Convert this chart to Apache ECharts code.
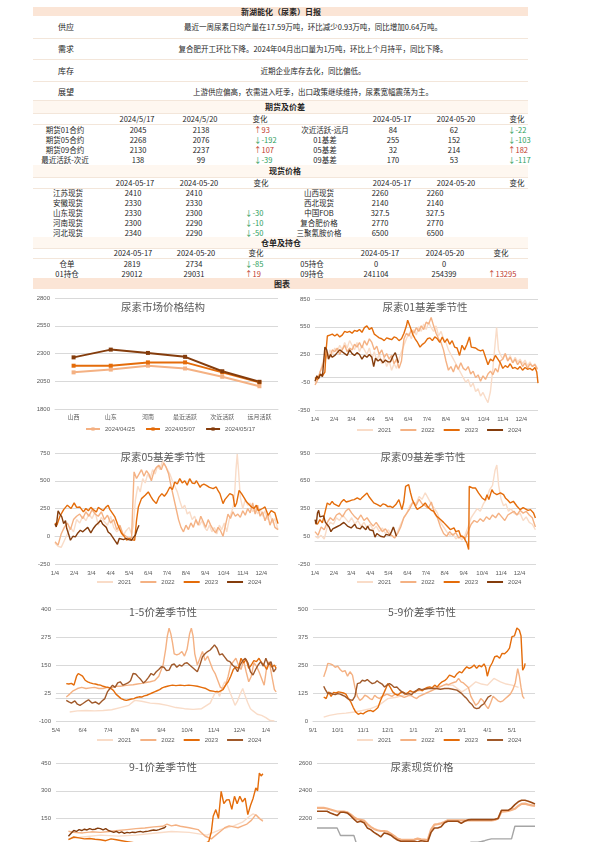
<!DOCTYPE html>
<html>
<head>
<meta charset="utf-8">
<script src="https://cdn.jsdelivr.net/npm/echarts@6.0.0/dist/echarts.min.js"></script>
<style>
  html, body { margin: 0; padding: 0; background: #fff; }
  body { width: 595px; height: 842px; overflow: hidden; position: relative;
         font-family: "Noto Sans CJK SC", "Liberation Sans", sans-serif; color: #262626; }
  .t { position: absolute; white-space: nowrap; font-size: 7.5px; line-height: 1; }
  .band { position: absolute; left: 33px; width: 495px; }
  .rule { position: absolute; left: 33px; width: 495px; height: 1px; background: #f3e6da; }
  .chart { position: absolute; }
</style>
</head>
<body>
<div id="c1" class="chart" style="left:30px;top:290px;width:265px;height:150px"></div>
<div id="c2" class="chart" style="left:295px;top:290px;width:270px;height:150px"></div>
<div id="c3" class="chart" style="left:30px;top:440px;width:265px;height:152px"></div>
<div id="c4" class="chart" style="left:295px;top:440px;width:270px;height:152px"></div>
<div id="c5" class="chart" style="left:30px;top:595px;width:265px;height:155px"></div>
<div id="c6" class="chart" style="left:295px;top:595px;width:270px;height:155px"></div>
<div id="c7" class="chart" style="left:30px;top:750px;width:265px;height:152px"></div>
<div id="c8" class="chart" style="left:295px;top:750px;width:270px;height:152px"></div>
<script>
// ---- 文字表格数据 ----
const reportTitle = '新湖能化（尿素）日报';
const summaryLabels = ['供应', '需求', '库存', '展望'];
const summaryTexts = [
  '最近一周尿素日均产量在17.59万吨，环比减少0.93万吨，同比增加0.64万吨。',
  '复合肥开工环比下降。2024年04月出口量为1万吨，环比上个月持平，同比下降。',
  '近期企业库存去化，同比偏低。',
  '上游供应偏高，农需进入旺季，出口政策继续维持，尿素宽幅震荡为主。'
];

const futNames = ['期货01合约', '期货05合约', '期货09合约', '最近活跃-次近'];
const fut0517 = [2045, 2268, 2130, 138];
const fut0520 = [2138, 2076, 2237, 99];
const sprNames = ['次近活跃-远月', '01基差', '05基差', '09基差'];
const spr0517 = [84, 255, 32, 170];
const spr0520 = [62, 152, 214, 53];

const spotNamesL = ['江苏现货', '安徽现货', '山东现货', '河南现货', '河北现货'];
const spotL0517 = [2410, 2330, 2330, 2300, 2340];
const spotL0520 = [2410, 2330, 2300, 2290, 2290];
const spotNamesR = ['山西现货', '西北现货', '中国FOB', '复合肥价格', '三聚氰胺价格'];
const spotR0517 = [2260, 2140, 327.5, 2770, 6500];
const spotR0520 = [2260, 2140, 327.5, 2770, 6500];

const whNamesL = ['仓单', '01持仓'];
const whL0517 = [2819, 29012];
const whL0520 = [2734, 29031];
const whNamesR = ['05持仓', '09持仓'];
const whR0517 = [0, 241104];
const whR0520 = [0, 254399];

// ---- 图表数据 ----
const structCats = ['山西', '山东', '河南', '最近活跃', '次近活跃', '远月活跃'];
const structNames = ['2024/04/25', '2024/05/07', '2024/05/17'];
const price0425 = [2130, 2155, 2190, 2165, 2090, 2005];
const price0507 = [2190, 2190, 2220, 2220, 2130, 2040];
const price0517 = [2265, 2335, 2305, 2270, 2140, 2045];

const YEARS = ['2021', '2022', '2023', '2024'];
const monthTicks = [0, 31, 59, 90, 120, 151, 181, 212, 243, 273, 304, 334];
const monthLabels = ['1/4', '2/4', '3/4', '4/4', '5/4', '6/4', '7/4', '8/4', '9/4', '10/4', '11/4', '12/4'];
const ticks15 = [0, 31, 61, 92, 123, 153, 184, 214, 245];
const labels15 = ['5/4', '6/4', '7/4', '8/4', '9/4', '10/4', '11/4', '12/4', '1/4'];
const ticks59 = [0, 30, 61, 91, 122, 153, 181, 212, 242];
const labels59 = ['9/1', '10/1', '11/1', '12/1', '1/1', '2/1', '3/1', '4/1', '5/1'];

// 01基差 [天, 值]
const b01_2021 = [[0,-60],[4,-20],[8,50],[12,150],[16,250],[20,200],[24,300],[28,250],[32,320],[36,280],[40,350],[44,300],[48,380],[52,320],[56,400],[60,350],[64,300],[68,380],[72,280],[76,350],[80,300],[84,250],[88,320],[92,200],[96,280],[100,180],[104,260],[108,150],[112,220],[116,120],[120,180],[124,80],[128,150],[132,100],[136,200],[140,280],[144,350],[148,420],[152,480],[156,420],[160,520],[164,460],[168,550],[172,500],[176,580],[180,520],[184,600],[188,540],[192,500],[196,560],[200,450],[204,500],[208,420],[212,380],[216,300],[220,250],[224,200],[228,150],[232,100],[236,50],[240,0],[244,-50],[248,-20],[252,-100],[256,-60],[260,-150],[264,-120],[268,-200],[272,-160],[276,-220],[280,-270],[284,-150],[288,100],[292,400],[294,540],[297,300],[300,250],[304,200],[308,260],[312,180],[316,240],[320,160],[324,220],[328,170],[332,200],[336,150],[340,190],[344,130],[348,170],[352,120],[356,150],[360,100]];
const b01_2022 = [[0,-80],[4,-30],[8,60],[12,120],[16,200],[20,250],[24,220],[28,300],[32,280],[36,320],[40,250],[44,300],[48,350],[52,280],[56,320],[60,300],[64,360],[68,330],[72,380],[76,320],[80,400],[84,350],[88,420],[92,380],[96,300],[100,340],[104,250],[108,300],[112,220],[116,260],[120,200],[124,240],[128,150],[132,200],[136,100],[140,180],[144,420],[148,480],[152,450],[156,520],[160,480],[164,540],[168,500],[172,560],[176,520],[180,600],[184,580],[188,650],[192,560],[196,480],[200,420],[204,380],[208,300],[212,180],[216,80],[220,120],[224,60],[228,140],[232,90],[236,160],[240,100],[244,80],[248,120],[252,40],[256,70],[260,0],[264,30],[268,-40],[272,20],[276,-20],[280,40],[284,70],[288,30],[292,100],[296,60],[300,180],[304,200],[308,260],[312,180],[316,220],[320,160],[324,200],[328,140],[332,180],[336,120],[340,160],[344,100],[348,150],[352,120],[356,140],[360,90]];
const b01_2023 = [[0,0],[4,-20],[8,30],[12,20],[16,60],[18,300],[20,450],[24,460],[28,470],[32,450],[36,470],[40,440],[44,460],[48,500],[52,490],[56,500],[60,480],[64,510],[68,500],[72,520],[76,490],[80,540],[84,560],[88,520],[92,540],[96,470],[100,450],[104,430],[108,420],[112,400],[116,430],[120,420],[124,410],[128,440],[132,430],[136,400],[140,420],[144,480],[148,560],[150,620],[152,600],[155,530],[158,470],[162,420],[166,380],[170,330],[174,360],[178,380],[182,420],[186,430],[190,400],[194,440],[198,420],[202,380],[206,440],[210,380],[214,420],[218,360],[222,400],[226,330],[230,320],[234,240],[238,350],[242,300],[246,360],[250,440],[253,330],[256,310],[260,320],[264,300],[268,290],[272,300],[276,220],[280,140],[284,200],[288,180],[292,240],[296,200],[300,160],[304,100],[308,130],[312,110],[316,150],[320,100],[324,110],[328,90],[332,120],[336,80],[340,110],[344,90],[348,100],[352,80],[356,110],[359,60],[361,-60]];
const b01_2024 = [[0,-40],[3,20],[6,-10],[9,40],[12,10],[14,30],[16,330],[19,300],[22,200],[25,250],[28,220],[32,240],[36,270],[40,300],[44,280],[48,260],[52,240],[56,300],[60,260],[64,240],[68,270],[72,250],[76,200],[80,240],[84,220],[88,250],[92,220],[95,120],[98,210],[102,180],[106,200],[110,160],[114,190],[118,170],[122,170],[126,230],[130,270],[133,250],[135,160]];

// 05基差
const b05_2021 = [[0,-60],[5,-90],[10,-100],[15,-40],[20,20],[25,80],[30,40],[35,150],[40,120],[45,180],[50,140],[55,200],[60,160],[65,220],[70,100],[75,170],[80,130],[85,100],[90,180],[95,80],[100,40],[105,70],[110,0],[115,50],[120,80],[124,20],[127,100],[130,320],[134,450],[138,400],[142,520],[146,480],[150,560],[154,520],[158,600],[162,560],[166,630],[170,600],[174,680],[178,640],[182,600],[186,560],[190,500],[194,450],[198,400],[202,320],[206,250],[210,280],[214,200],[218,220],[222,150],[226,180],[230,120],[234,100],[238,140],[242,80],[246,50],[250,100],[254,40],[258,80],[262,20],[266,100],[270,60],[274,120],[278,40],[282,150],[286,220],[290,300],[293,600],[295,740],[297,600],[300,350],[304,250],[308,330],[312,280],[316,300],[320,220],[324,260],[328,200],[332,250],[336,180],[340,230],[344,150],[348,200],[352,120],[356,160],[361,60]];
const b05_2022 = [[0,-50],[5,-80],[10,20],[15,80],[20,120],[25,60],[30,150],[35,180],[40,200],[45,160],[50,220],[55,180],[60,240],[65,200],[70,180],[75,220],[80,150],[85,190],[90,120],[95,150],[100,60],[105,100],[110,20],[115,0],[120,-20],[124,-10],[126,300],[128,580],[132,520],[136,560],[140,600],[144,540],[148,590],[152,560],[156,500],[160,580],[164,620],[168,640],[172,600],[176,660],[180,620],[184,560],[188,450],[192,350],[196,250],[200,150],[204,80],[208,40],[212,100],[216,60],[220,120],[224,80],[228,150],[232,100],[236,180],[240,130],[244,80],[248,150],[252,100],[256,60],[260,30],[264,80],[268,50],[272,0],[276,100],[280,200],[284,160],[288,220],[292,180],[296,200],[300,170],[304,230],[308,190],[312,250],[316,210],[320,300],[324,200],[328,280],[332,180],[336,220],[340,140],[344,200],[348,100],[352,160],[356,80],[361,60]];
const b05_2023 = [[0,120],[3,100],[8,180],[14,240],[20,280],[26,250],[31,300],[35,260],[40,264],[46,219],[50,250],[54,230],[58,260],[62,240],[67,219],[70,260],[73,264],[78,230],[82,260],[86,279],[89,240],[92,230],[97,174],[102,99],[105,60],[108,24],[112,0],[116,-36],[120,-20],[124,-30],[129,-36],[132,144],[135,264],[140,339],[146,369],[151,399],[155,360],[159,324],[164,294],[168,350],[173,384],[177,360],[181,390],[186,444],[190,420],[194,489],[198,470],[202,519],[206,480],[210,500],[214,460],[218,519],[222,480],[226,474],[229,500],[232,500],[235,440],[237,459],[241,470],[245,459],[250,440],[256,429],[261,444],[264,410],[267,384],[272,294],[275,330],[278,320],[283,384],[288,370],[291,264],[294,300],[298,414],[302,384],[307,339],[310,310],[313,300],[318,264],[322,250],[326,279],[329,230],[332,219],[336,250],[340,264],[345,189],[350,230],[356,210],[361,114]];
const b05_2024 = [[0,110],[2,84],[5,228],[8,200],[11,174],[14,114],[17,140],[19,69],[22,20],[25,-36],[29,0],[33,-6],[37,30],[41,54],[45,40],[49,60],[53,80],[58,30],[62,70],[66,99],[70,120],[74,144],[77,110],[80,100],[83,80],[86,39],[90,20],[93,-6],[97,-40],[101,-72],[104,-20],[107,-10],[111,-30],[115,-20],[119,-30],[124,-36],[127,-10],[130,9],[133,60],[136,99]];

// 09基差
const b09_2021 = [[0,50],[5,30],[10,60],[15,20],[20,150],[25,200],[30,180],[35,250],[40,220],[45,280],[50,240],[55,200],[60,250],[65,180],[70,220],[75,160],[80,200],[85,140],[90,180],[95,120],[100,160],[105,100],[110,140],[115,80],[120,120],[125,60],[130,40],[135,100],[140,180],[145,250],[150,300],[155,380],[160,420],[165,400],[170,480],[175,450],[180,520],[185,460],[190,400],[195,350],[200,300],[205,200],[210,150],[215,100],[220,60],[225,80],[230,20],[235,50],[240,10],[245,60],[250,150],[255,250],[260,300],[265,350],[270,320],[275,400],[280,450],[285,550],[290,600],[294,760],[297,820],[300,600],[304,450],[308,380],[312,400],[316,320],[320,350],[325,300],[330,280],[335,300],[340,220],[345,260],[350,200],[355,180],[360,120]];
const b09_2022 = [[0,100],[5,60],[10,150],[15,120],[20,200],[25,250],[30,220],[35,280],[40,300],[45,260],[50,320],[55,350],[60,300],[65,260],[70,230],[75,280],[80,220],[85,250],[90,200],[95,160],[100,200],[105,150],[110,100],[115,130],[120,80],[125,60],[130,30],[135,80],[140,150],[145,250],[150,300],[155,350],[160,420],[165,380],[170,450],[175,400],[180,380],[185,350],[190,420],[195,300],[200,250],[205,150],[210,80],[215,50],[220,100],[225,60],[230,90],[235,30],[240,60],[245,20],[250,100],[255,180],[260,220],[265,200],[270,240],[275,210],[280,260],[285,230],[290,280],[295,250],[300,300],[305,260],[310,220],[315,280],[320,300],[325,320],[330,280],[335,330],[340,300],[345,320],[350,280],[355,250],[360,150]];
const b09_2023 = [[0,200],[4,180],[8,230],[12,194],[16,300],[20,410],[24,390],[28,428],[31,400],[34,410],[39,374],[43,420],[47,446],[51,420],[55,428],[60,440],[64,446],[69,464],[74,446],[77,470],[80,482],[85,518],[88,480],[91,464],[96,410],[99,420],[102,392],[107,374],[111,400],[115,392],[119,370],[123,374],[127,360],[132,392],[137,446],[142,338],[145,420],[148,590],[153,608],[156,520],[159,446],[164,374],[167,340],[170,338],[175,374],[180,410],[183,380],[186,356],[190,330],[194,320],[199,266],[205,230],[210,200],[216,158],[221,122],[227,140],[230,100],[232,86],[235,110],[238,50],[243,40],[246,0],[248,-22],[251,-94],[252,590],[257,572],[262,572],[267,518],[273,464],[278,440],[281,500],[284,446],[289,554],[292,520],[295,518],[297,500],[303,518],[308,500],[311,464],[315,440],[319,410],[324,428],[330,374],[335,338],[340,360],[343,356],[348,330],[352,338],[357,302],[360,248]];
const b09_2024 = [[0,230],[2,180],[4,300],[6,330],[8,260],[11,250],[14,270],[17,200],[20,220],[23,150],[26,100],[29,130],[32,120],[35,150],[38,130],[41,170],[44,160],[47,200],[50,190],[53,160],[56,170],[59,140],[62,160],[65,180],[68,140],[71,150],[74,130],[77,160],[80,140],[83,120],[86,160],[89,120],[92,130],[95,110],[98,40],[101,80],[104,70],[107,50],[110,60],[113,40],[116,70],[119,50],[122,60],[125,100],[128,150],[131,170],[133,50]];

// 1-5价差
const s15_2021 = [[16,-60],[25,-55],[35,-53],[45,-55],[55,-53],[65,-50],[75,-40],[85,-30],[92,-8],[100,-12],[110,-20],[120,-23],[130,-30],[140,-40],[150,-45],[160,-48],[170,-45],[180,-20],[185,20],[188,37],[191,10],[194,50],[197,75],[200,60],[203,30],[206,0],[209,-30],[212,-10],[215,20],[218,45],[221,10],[224,-20],[227,-45],[230,-55],[235,-70],[240,-75],[245,-85],[250,-98],[255,-100]];
const s15_2022 = [[12,7],[16,20],[20,35],[25,45],[30,50],[35,45],[40,48],[45,50],[50,45],[55,45],[60,50],[65,48],[70,55],[75,55],[80,58],[85,60],[90,62],[95,65],[100,68],[105,72],[110,75],[115,80],[120,100],[125,150],[128,220],[130,280],[132,314],[134,290],[136,250],[138,200],[141,195],[144,200],[147,210],[150,190],[153,220],[156,290],[158,314],[160,280],[162,200],[165,150],[168,180],[171,210],[174,170],[177,190],[180,160],[183,130],[186,110],[189,80],[192,50],[195,45],[198,60],[201,100],[204,150],[207,165],[210,180],[213,150],[216,130],[219,170],[222,120],[225,75],[228,100],[231,160],[234,145],[237,120],[240,90],[243,60],[246,140],[249,165],[252,100],[255,40],[257,30]];
const s15_2023 = [[12,67],[15,65],[18,68],[21,60],[24,100],[26,112],[28,110],[31,100],[34,82],[37,75],[40,70],[43,67],[46,65],[49,62],[52,60],[55,55],[58,52],[61,50],[64,45],[67,37],[70,20],[73,10],[76,0],[79,-5],[82,-8],[85,-5],[88,-2],[91,0],[94,5],[97,8],[100,7],[103,12],[106,15],[109,20],[112,25],[115,30],[118,35],[121,40],[124,48],[127,52],[130,55],[133,58],[136,60],[140,58],[145,60],[150,58],[155,60],[160,58],[165,55],[170,50],[175,45],[180,35],[185,32],[190,30],[195,40],[198,60],[201,75],[204,100],[207,130],[210,142],[213,135],[216,180],[219,160],[222,175],[225,135],[228,150],[231,170],[234,165],[237,180],[240,160],[243,150],[246,130],[249,160],[252,140],[255,150],[257,135]];
const s15_2024 = [[12,-8],[15,-15],[18,-20],[22,-10],[25,-25],[28,-30],[31,-23],[34,-15],[38,-5],[42,-20],[46,-15],[50,-25],[54,-10],[57,0],[60,30],[63,45],[66,60],[69,50],[72,70],[75,75],[78,60],[81,65],[84,70],[87,80],[90,112],[93,110],[96,97],[99,85],[102,70],[105,80],[108,95],[111,112],[114,105],[117,120],[120,130],[123,142],[126,140],[129,125],[132,127],[135,150],[138,155],[141,140],[144,150],[147,145],[150,157],[153,160],[156,150],[159,140],[162,130],[165,120],[168,150],[171,187],[174,200],[177,210],[180,217],[183,230],[185,240],[188,225],[191,195],[194,200],[197,185],[200,170],[203,165],[206,150],[209,140],[212,120],[215,150],[218,170],[221,180],[224,160],[227,120],[230,105],[233,130],[236,150],[239,165],[242,145],[245,180],[248,150],[251,165],[254,120],[257,135]];

// 5-9价差
const s59_2021 = [[13,17],[20,25],[30,32],[40,35],[50,40],[60,47],[70,55],[80,70],[91,100],[100,105],[110,115],[122,130],[130,135],[140,145],[150,150],[160,160],[170,160],[181,130],[190,150],[198,175],[205,165],[212,160],[220,190],[228,175],[235,165],[242,160],[250,150]];
const s59_2022 = [[13,197],[16,230],[18,257],[21,255],[24,250],[27,240],[30,245],[33,230],[36,220],[39,225],[42,200],[45,220],[48,205],[51,150],[54,110],[57,92],[60,100],[63,115],[66,110],[69,100],[72,95],[75,115],[78,105],[81,100],[84,110],[87,115],[90,120],[93,115],[96,110],[99,118],[102,120],[105,115],[108,110],[111,105],[114,110],[117,115],[120,112],[123,105],[126,100],[129,110],[132,115],[135,120],[138,125],[141,130],[144,135],[147,140],[150,145],[153,150],[156,155],[159,160],[162,165],[165,162],[168,168],[171,172],[174,175],[177,190],[180,175],[183,170],[186,160],[189,150],[192,110],[195,90],[198,70],[201,80],[204,100],[207,90],[210,70],[213,55],[216,80],[219,110],[222,100],[225,90],[228,85],[231,90],[234,100],[237,110],[240,120],[243,140],[246,170],[249,234],[251,200],[253,150],[255,110],[257,100]];
const s59_2023 = [[13,107],[16,100],[19,130],[22,110],[25,128],[28,125],[31,130],[34,128],[37,125],[40,120],[43,100],[46,85],[49,60],[52,40],[55,30],[58,35],[61,32],[64,40],[67,45],[70,47],[73,42],[76,50],[79,60],[82,90],[85,115],[88,140],[91,167],[94,150],[97,130],[100,120],[103,115],[106,125],[109,130],[112,120],[115,125],[118,135],[121,130],[124,128],[127,137],[130,140],[133,135],[136,145],[139,150],[142,152],[145,148],[148,160],[151,152],[154,165],[157,175],[160,180],[163,190],[166,205],[169,200],[172,195],[175,210],[178,220],[181,215],[184,230],[187,242],[190,235],[193,240],[196,250],[199,235],[202,248],[205,242],[208,255],[210,240],[212,200],[215,240],[218,260],[221,287],[224,290],[227,280],[230,302],[233,300],[236,310],[239,325],[242,377],[245,380],[248,415],[251,405],[253,380],[255,227],[257,240],[258,257]];
const s59_2024 = [[13,155],[15,140],[18,122],[21,125],[24,120],[27,118],[30,122],[33,120],[36,115],[39,110],[42,100],[45,95],[48,92],[51,110],[54,167],[57,170],[60,182],[63,178],[66,185],[69,175],[72,167],[75,170],[78,180],[81,171],[84,165],[87,152],[90,160],[93,167],[96,160],[99,150],[102,152],[105,140],[108,130],[111,125],[114,120],[117,122],[120,118],[123,130],[126,137],[129,145],[132,140],[135,142],[140,145],[145,145],[150,145],[155,142],[160,145],[165,145],[170,142],[175,138],[178,130],[181,122],[184,110],[187,100],[190,85],[193,75],[196,60],[199,55],[202,58],[205,70],[208,77],[211,95],[213,107],[215,110],[217,115]];

// 9-1价差
const s91_2021 = [[14,40],[30,50],[50,60],[70,55],[90,60],[110,70],[130,80],[150,75],[170,60],[185,90],[200,110],[210,130],[218,162],[222,175],[226,165],[230,150],[233,140]];
const s91_2022 = [[14,81],[20,75],[30,72],[40,78],[50,75],[60,80],[70,85],[80,90],[90,95],[100,99],[110,105],[120,108],[125,120],[130,110],[135,115],[140,108],[150,100],[160,90],[168,54],[175,40],[180,60],[185,80],[190,100],[195,110],[200,105],[205,100],[210,110],[215,120],[220,140],[225,171],[229,150],[233,135]];
const s91_2023 = [[14,36],[20,50],[26,45],[32,40],[38,42],[44,38],[50,35],[56,30],[62,40],[68,35],[74,30],[80,25],[86,20],[92,15],[98,10],[104,5],[110,0],[116,-5],[122,-10],[128,-5],[134,0],[140,5],[146,-5],[152,0],[158,10],[164,5],[168,15],[172,25],[175,80],[177,162],[180,198],[183,150],[186,297],[189,230],[192,250],[195,252],[198,200],[201,270],[204,230],[207,270],[210,240],[213,260],[216,171],[219,220],[222,260],[225,315],[227,300],[229,396],[231,380],[233,392]];
const s91_2024 = [[14,54],[17,70],[20,85],[23,80],[26,90],[29,85],[32,92],[35,88],[38,95],[41,90],[44,92],[47,98],[50,95],[53,88],[56,95],[59,85],[62,80],[65,75],[68,80],[71,72],[74,78],[77,70],[80,75],[83,72],[86,76],[89,74],[92,78],[95,80],[98,76],[101,80],[104,82],[107,85],[110,88],[113,86],[116,90],[119,95],[122,100],[124,108]];

// 尿素现货价格
const spotDark = [2252,2252,2252,2252,2240,2230,2221,2245,2245,2240,2220,2195,2173,2180,2170,2132,2120,2100,2085,2067,2096,2090,2080,2060,2045,2036,2036,2036,2036,2036,2030,2040,2036,2030,2100,2132,2132,2140,2170,2180,2180,2180,2180,2165,2180,2190,2192,2192,2192,2192,2192,2192,2192,2195,2200,2259,2259,2259,2275,2300,2320,2331,2331,2325,2315,2305];
const spotLight = [2276,2276,2276,2272,2265,2258,2250,2250,2250,2245,2230,2210,2195,2190,2185,2160,2140,2125,2115,2110,2110,2105,2090,2075,2055,2048,2046,2046,2046,2048,2055,2050,2048,2045,2120,2156,2160,2165,2175,2187,2187,2187,2187,2187,2187,2187,2187,2187,2187,2187,2187,2187,2187,2190,2200,2250,2252,2255,2262,2270,2290,2305,2307,2300,2295,2290];
const spotGray = [2132,2132,2132,2132,2132,2132,2132,2077,2077,2077,2077,2077,2000,1990,1980,1980,1970,1960,1960,1950,1950,1940,1940,1940,1950,1950,1960,1960,1970,1980,1990,2000,2000,2000,2000,2000,2000,2000,2010,2010,2010,2010,2020,2020,2020,2020,2030,2030,2030,2034,2040,2048,2053,2053,2053,2053,2053,2053,2053,2144,2144,2144,2144,2144,2144,2144];

const FONT = '"Noto Sans CJK SC", "Liberation Sans", sans-serif';
const LATIN = '"Liberation Sans", "Noto Sans", sans-serif';
const SEASON_COLORS = ['#f9dcc8', '#f4b183', '#e46c0a', '#843c0c'];
const UP = '#c0392b';
const DOWN = '#2e9e5b';

// ---- 页面文字 ----
function put(x, y, text, opt) {
  opt = opt || {};
  const d = document.createElement('div');
  d.className = 't';
  d.textContent = text;
  d.style.left = x + 'px';
  d.style.top = y + 'px';
  d.style.transform = opt.left ? 'translate(0,-50%)' : 'translate(-50%,-50%)';
  if (opt.size) d.style.fontSize = opt.size + 'px';
  if (opt.bold) d.style.fontWeight = 'bold';
  if (opt.color) d.style.color = opt.color;
  document.body.appendChild(d);
}
function band(top, h, color) {
  const d = document.createElement('div');
  d.className = 'band';
  d.style.top = top + 'px';
  d.style.height = h + 'px';
  d.style.background = color;
  document.body.appendChild(d);
}
function rule(top) {
  const d = document.createElement('div');
  d.className = 'rule';
  d.style.top = top + 'px';
  document.body.appendChild(d);
}
function change(x, y, a, b) {
  const v = Math.round((b - a) * 10) / 10;
  if (v === 0) return;
  put(x, y, (v > 0 ? '↑' : '↓') + v, { left: true, color: v > 0 ? UP : DOWN });
}

band(7, 9, '#fbe5d6');
put(281, 11.5, reportTitle, { bold: true, size: 8 });
summaryLabels.forEach((s, i) => {
  const y = [27, 49, 71, 92][i];
  put(66, y, s, { size: 8 });
  put(313, y, summaryTexts[i]);
});
[38, 59, 81, 100].forEach(rule);

// 期货及价差
band(101, 12, '#fef7f0');
put(285, 107, '期货及价差', { bold: true, size: 8 });
rule(113); rule(124);
put(137, 119, '2024/5/17'); put(200, 119, '2024/5/20'); put(260, 119, '变化');
put(392, 119, '2024-05-17'); put(456, 119, '2024-05-20'); put(517, 119, '变化');
futNames.forEach((s, i) => {
  const y = 129.5 + i * 10.3;
  put(65, y, s);
  put(138, y, String(fut0517[i]));
  put(201, y, String(fut0520[i]));
  change(254, y, fut0517[i], fut0520[i]);
  put(325, y, sprNames[i]);
  put(393, y, String(spr0517[i]));
  put(454, y, String(spr0520[i]));
  change(508, y, spr0517[i], spr0520[i]);
});

// 现货价格
band(165, 12, '#fef7f0');
put(285, 170.5, '现货价格', { bold: true, size: 8 });
rule(177); rule(188);
put(135, 183, '2024-05-17'); put(199, 183, '2024-05-20'); put(261, 183, '变化');
put(392, 183, '2024-05-17'); put(456, 183, '2024-05-20'); put(517, 183, '变化');
spotNamesL.forEach((s, i) => {
  const y = 193 + i * 10;
  put(68, y, s);
  put(133, y, String(spotL0517[i]));
  put(194, y, String(spotL0520[i]));
  change(245, y, spotL0517[i], spotL0520[i]);
  put(319, y, spotNamesR[i]);
  put(380, y, String(spotR0517[i]));
  put(435, y, String(spotR0520[i]));
  change(500, y, spotR0517[i], spotR0520[i]);
});

// 仓单及持仓
band(237, 11, '#fef7f0');
put(281, 242.5, '仓单及持仓', { bold: true, size: 8 });
rule(248); rule(258);
put(133, 253, '2024-05-17'); put(196, 253, '2024-05-20'); put(256, 253, '变化');
put(380, 253, '2024-05-17'); put(445, 253, '2024-05-20'); put(501, 253, '变化');
whNamesL.forEach((s, i) => {
  const y = 264 + i * 10;
  put(67, y, s);
  put(132, y, String(whL0517[i]));
  put(194, y, String(whL0520[i]));
  change(245, y, whL0517[i], whL0520[i]);
  put(312, y, whNamesR[i]);
  put(376, y, String(whR0517[i]));
  put(444, y, String(whR0520[i]));
  change(488, y, whR0517[i], whR0520[i]);
});

band(278, 11, '#fbe5d6');
put(282, 283.5, '图表', { bold: true, size: 8 });

// ---- 图表 ----
const axisText = { fontSize: 6, color: '#595959', fontFamily: LATIN };
const plain = v => String(v);
function titleOf(text, x) {
  return { text: text, left: x, top: 7, textAlign: 'center',
           textStyle: { fontFamily: FONT, fontSize: 10.5, fontWeight: 'normal', color: '#595959' } };
}

function seasonal(id, cfg) {
  const chart = echarts.init(document.getElementById(id));
  const colors = cfg.colors || SEASON_COLORS;
  chart.setOption({
    animation: false,
    title: titleOf(cfg.title, cfg.titleX),
    grid: cfg.grid,
    legend: {
      data: YEARS, left: cfg.legendX, bottom: 2, icon: 'rect', itemWidth: 16, itemHeight: 2, itemGap: 9,
      textStyle: { fontSize: 6, color: '#595959', fontFamily: LATIN }
    },
    xAxis: {
      type: 'value', min: 0, max: cfg.xMax,
      axisLine: { lineStyle: { color: '#d9d9d9' } },
      axisTick: { show: false },
      splitLine: { show: false },
      axisLabel: Object.assign({
        customValues: cfg.ticks, margin: 6,
        formatter: v => { const k = cfg.ticks.indexOf(v); return k >= 0 ? cfg.labels[k] : ''; }
      }, axisText)
    },
    yAxis: {
      type: 'value', min: cfg.yMin, max: cfg.yMax, interval: cfg.yStep,
      axisLine: { show: false }, axisTick: { show: false },
      splitLine: { lineStyle: { color: '#d9d9d9', width: 1 } },
      axisLabel: Object.assign({ margin: 5, formatter: plain }, axisText)
    },
    series: cfg.data.map((d, i) => ({
      name: YEARS[i], type: 'line', data: d, showSymbol: false, symbol: 'none',
      lineStyle: { width: 1.4, color: colors[i] }, itemStyle: { color: colors[i] }
    }))
  });
}

// 市场价格结构
(function () {
  const chart = echarts.init(document.getElementById('c1'));
  const colors = ['#f4b183', '#e46c0a', '#843c0c'];
  const vals = [price0425, price0507, price0517];
  chart.setOption({
    animation: false,
    title: titleOf('尿素市场价格结构', 128),
    grid: { left: 25, right: 17, top: 8, bottom: 31 },
    legend: {
      data: structNames, left: 50, bottom: 3, itemWidth: 14, itemHeight: 4, itemGap: 10,
      textStyle: { fontSize: 6, color: '#595959', fontFamily: LATIN }
    },
    xAxis: {
      type: 'category', data: structCats, boundaryGap: true,
      axisLine: { lineStyle: { color: '#d9d9d9' } }, axisTick: { show: false },
      axisLabel: { fontSize: 6, color: '#595959', fontFamily: FONT, margin: 5, interval: 0 }
    },
    yAxis: {
      type: 'value', min: 1800, max: 2800, interval: 250,
      axisLine: { show: false }, axisTick: { show: false },
      splitLine: { lineStyle: { color: '#d9d9d9' } },
      axisLabel: Object.assign({ margin: 5, formatter: plain }, axisText)
    },
    series: vals.map((v, i) => ({
      name: structNames[i], type: 'line', data: v, symbol: 'rect', symbolSize: 4,
      lineStyle: { width: 2, color: colors[i] }, itemStyle: { color: colors[i] }
    }))
  });
})();

seasonal('c2', { title: '尿素01基差季节性', titleX: 125, grid: { left: 20, right: 27, top: 9, bottom: 30 },
  legendX: 57, xMax: 361, ticks: monthTicks, labels: monthLabels, yMin: -350, yMax: 850, yStep: 300,
  data: [b01_2021, b01_2022, b01_2023, b01_2024] });
seasonal('c3', { title: '尿素05基差季节性', titleX: 128, grid: { left: 25, right: 17, top: 13, bottom: 28 },
  legendX: 62, xMax: 361, ticks: monthTicks, labels: monthLabels, yMin: -250, yMax: 750, yStep: 250,
  data: [b05_2021, b05_2022, b05_2023, b05_2024] });
seasonal('c4', { title: '尿素09基差季节性', titleX: 123, grid: { left: 19, right: 29, top: 13, bottom: 28 },
  legendX: 57, xMax: 361, ticks: monthTicks, labels: monthLabels, yMin: -250, yMax: 950, yStep: 300,
  data: [b09_2021, b09_2022, b09_2023, b09_2024] });
seasonal('c5', { title: '1-5价差季节性', titleX: 128, grid: { left: 26, right: 18, top: 14, bottom: 29 },
  legendX: 62, xMax: 258, ticks: ticks15, labels: labels15, yMin: -100, yMax: 400, yStep: 125,
  colors: ['#f9dcc8', '#f4b183', '#e46c0a', '#a0592a'],
  data: [s15_2021, s15_2022, s15_2023, s15_2024] });
seasonal('c6', { title: '5-9价差季节性', titleX: 122, grid: { left: 18, right: 30, top: 14, bottom: 29 },
  legendX: 57, xMax: 270, ticks: ticks59, labels: labels59, yMin: 0, yMax: 500, yStep: 125,
  colors: ['#f9dcc8', '#f4b183', '#e46c0a', '#a0592a'],
  data: [s59_2021, s59_2022, s59_2023, s59_2024] });
seasonal('c7', { title: '9-1价差季节性', titleX: 128, grid: { left: 26, right: 17, top: 13, bottom: 28 },
  legendX: 62, xMax: 250, ticks: monthTicks.slice(0, 9), labels: monthLabels.slice(0, 9), yMin: -150, yMax: 450, yStep: 150,
  data: [s91_2021, s91_2022, s91_2023, s91_2024] });

// 尿素现货价格
(function () {
  const chart = echarts.init(document.getElementById('c8'));
  const idx = spotDark.map((_, i) => String(i));
  chart.setOption({
    animation: false,
    title: titleOf('尿素现货价格', 122),
    grid: { left: 22, right: 30, top: 13, bottom: 28 },
    xAxis: {
      type: 'category', data: idx, boundaryGap: false,
      axisLine: { lineStyle: { color: '#d9d9d9' } }, axisTick: { show: false }, axisLabel: { show: false }
    },
    yAxis: {
      type: 'value', min: 1800, max: 2600, interval: 200,
      axisLine: { show: false }, axisTick: { show: false },
      splitLine: { lineStyle: { color: '#d9d9d9' } },
      axisLabel: Object.assign({ margin: 5, formatter: plain }, axisText)
    },
    series: [
      { name: '灰', type: 'line', data: spotGray, showSymbol: false, lineStyle: { width: 1.4, color: '#a5a5a5' } },
      { name: '浅', type: 'line', data: spotLight, showSymbol: false, lineStyle: { width: 2.2, color: '#f4b183' } },
      { name: '深', type: 'line', data: spotDark, showSymbol: false, lineStyle: { width: 1.6, color: '#9c4a14' } }
    ]
  });
})();
</script>
</body>
</html>
